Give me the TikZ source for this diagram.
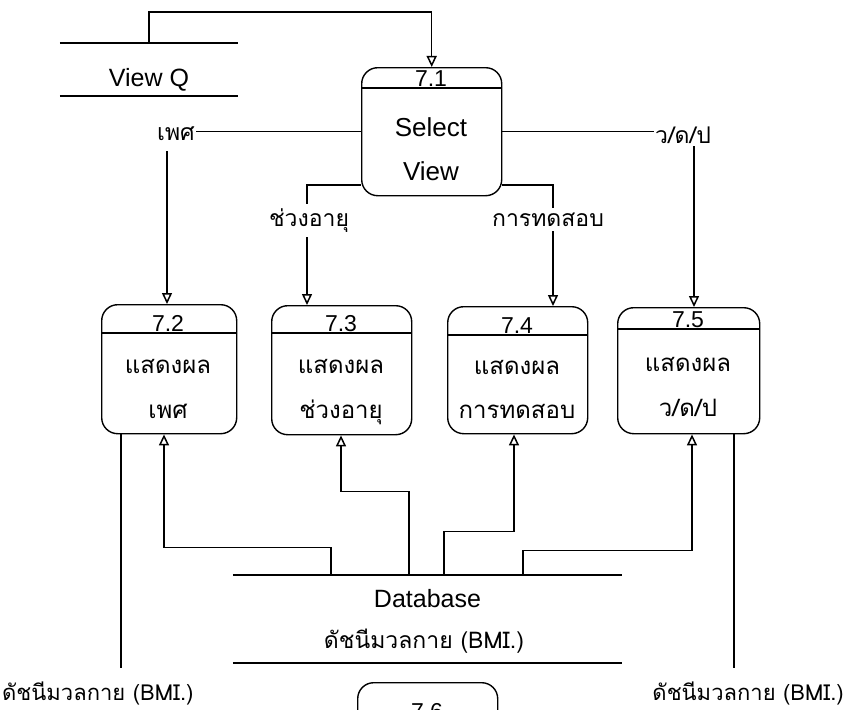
\documentclass[tikz,border=0pt]{standalone}
\usepackage{fontspec}
\setmainfont{Liberation Sans}
\newfontfamily\thaifont[Script=Thai]{Loma}
\usetikzlibrary{arrows.meta}
\begin{document}
\begin{tikzpicture}[x=1pt,y=-1pt,
  proc/.style={draw, rounded corners=16pt, line width=1.4pt, anchor=north west,
    inner sep=0pt, minimum height=128pt},
  sepline/.style={line width=1.3pt},
  flow/.style={line width=1.2pt},
  arr/.style={flow, -{Triangle[open, length=11pt, width=10pt, line width=1.5pt]}},
  store/.style={line width=2pt},
  lat/.style={font=\fontsize{25}{30}\selectfont, inner sep=1pt},
  num/.style={font=\fontsize{23}{28}\selectfont, inner sep=0pt, anchor=base},
  thai/.style={font=\thaifont\fontsize{23}{30}\selectfont, inner sep=1pt},
  body/.style={font=\thaifont\fontsize{24}{30}\selectfont, inner sep=0pt, anchor=base}]
\useasboundingbox (0,0) rectangle (845,709);
\clip (0,0) rectangle (845,709);

% data store: View Q
\node[minimum width=178pt, minimum height=53pt, inner sep=0pt] (viewq) at (149,69.5) {};
\draw[store] (viewq.north west) -- (viewq.north east);
\draw[store] (viewq.south west) -- (viewq.south east);
\node[lat, anchor=base] (viewqtxt) at (149,86) {View Q};

% process 7.1
\node[proc, minimum width=140pt] (p71) at (361,67) {};
\draw[sepline] ([yshift=-21pt]p71.north west) -- ([yshift=-21pt]p71.north east);
\node[num] (p71n) at (431,86) {7.1};
\node[lat, anchor=base, font=\fontsize{26}{30}\selectfont] (p71a) at (431,136) {Select};
\node[lat, anchor=base, font=\fontsize{26}{30}\selectfont] (p71b) at (431,180) {View};

% processes 7.2 -- 7.5
\node[proc, minimum width=135pt, minimum height=129pt] (p72) at (101,304) {};
\draw[sepline] ([yshift=-29pt]p72.north west) -- ([yshift=-29pt]p72.north east);
\node[num] (p72n) at (168,331) {7.2};
\node[body] (p72a) at (168,373) {แสดงผล};
\node[body] (p72b) at (168,418) {เพศ};

\node[proc, minimum width=140pt, minimum height=129pt] (p73) at (271,305) {};
\draw[sepline] ([yshift=-28pt]p73.north west) -- ([yshift=-28pt]p73.north east);
\node[num] (p73n) at (341,331) {7.3};
\node[body] (p73a) at (341,373) {แสดงผล};
\node[body] (p73b) at (341,418) {ช่วงอายุ};

\node[proc, minimum width=140pt, minimum height=127pt] (p74) at (447,306) {};
\draw[sepline] ([yshift=-29pt]p74.north west) -- ([yshift=-29pt]p74.north east);
\node[num] (p74n) at (517,333) {7.4};
\node[body] (p74a) at (517,374) {แสดงผล};
\node[body] (p74b) at (517,418) {การทดสอบ};

\node[proc, minimum width=142pt, minimum height=126pt] (p75) at (617,307) {};
\draw[sepline] ([yshift=-22pt]p75.north west) -- ([yshift=-22pt]p75.north east);
\node[num] (p75n) at (688,327) {7.5};
\node[body] (p75a) at (688,371) {แสดงผล};
\node[body] (p75b) at (688,416) {ว/ด/ป};

% process 7.6 (runs off the lower edge)
\node[proc, minimum width=140pt, minimum height=130pt] (p76) at (357,682) {};
\node[num] (p76n) at (427,719) {7.6};

% data store: Database
\node[minimum width=389pt, minimum height=88pt, inner sep=0pt] (db) at (427.5,619) {};
\draw[store] (db.north west) -- (db.north east);
\draw[store] (db.south west) -- (db.south east);
\node[lat, anchor=base] (dbtxt) at (427.5,607) {Database};
\node[thai, anchor=base] (dbthai) at (424,648) {ดัชนีมวลกาย (BMI.)};

% flow labels
\node[thai, anchor=base] (lsex) at (176,140) {เพศ};
\node[thai, anchor=base] (ldmy) at (683,143) {ว/ด/ป};
\node[thai, anchor=base] (lage) at (309,226) {ช่วงอายุ};
\node[thai, anchor=base] (ltest) at (548,226) {การทดสอบ};
\node[thai, anchor=base west, font=\thaifont\fontsize{22}{28}\selectfont] (lbmil) at (1,700) {ดัชนีมวลกาย (BMI.)};
\node[thai, anchor=base east, font=\thaifont\fontsize{22}{28}\selectfont] (lbmir) at (845,700) {ดัชนีมวลกาย (BMI.)};

% View Q -> 7.1
\draw[arr] (viewq.north) -- (viewq.north |- 0,12) -| (p71.north);

% 7.1 -> 7.2 .. 7.5
\draw[flow] (p71.west) -- (lsex.east |- p71.west);
\draw[arr] ([yshift=-10pt]lsex.south -| 167,0) -- (p72.north -| 167,0);
\draw[flow] (p71.east) -- (ldmy.west |- p71.east);
\draw[arr] ([yshift=-2pt]ldmy.south -| 694,0) -- (p75.north -| 694,0);
\draw[flow] (p71.west |- 0,185) -| ([yshift=3pt]lage.north -| 307,0);
\draw[arr] ([yshift=-4pt]lage.south -| 307,0) -- (p73.north -| 307,0);
\draw[flow] (p71.east |- 0,185) -| ([yshift=3pt]ltest.north -| 553,0);
\draw[arr] ([yshift=-4pt]ltest.south -| 553,0) -- (p74.north -| 553,0);

% Database -> 7.2 .. 7.5
\draw[arr] (db.north -| 331,0) -- ++(0,-27) -| (p72.south -| 164,0);
\draw[arr] (db.north -| 409,0) -- ++(0,-83) -| (p73.south -| 341,0);
\draw[arr] (db.north -| 444,0) -- ++(0,-43) -| (p74.south -| 514,0);
\draw[arr] (db.north -| 523,0) -- ++(0,-24) -| (p75.south -| 692,0);

% 7.2 and 7.5 -> BMI index (towards 7.6)
\draw[flow] (p72.south -| 121,0) -- (121,668);
\draw[flow] (p75.south -| 734,0) -- (734,668);
\end{tikzpicture}
\end{document}
